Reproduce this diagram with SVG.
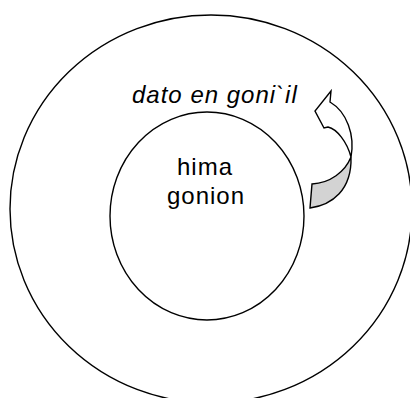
<svg xmlns="http://www.w3.org/2000/svg" width="410" height="398" viewBox="0 0 410 398">
<style>
.c{fill:none;stroke:#000;stroke-width:1.4}
.t{font-family:"Liberation Sans",Arial,sans-serif;font-size:24px;letter-spacing:1px;fill:#000}
.a{stroke:#000;stroke-width:1.4;stroke-linejoin:miter}
</style>
<rect width="410" height="398" fill="#fff"/>
<g id="outer"><ellipse class="c" cx="211" cy="209" rx="201" ry="194"/></g>
<g id="inner"><ellipse class="c" cx="207" cy="216" rx="97" ry="104"/>
<text class="t" x="205" y="175" text-anchor="middle">hima</text>
<text class="t" x="206" y="204" text-anchor="middle">gonion</text></g>
<g id="label"><text class="t" x="132" y="103" font-style="italic">dato en goni`il</text></g>
<g id="connectors">
<path class="a" fill="#d3d3d3" d="M351,157 C345,172 330,183 312,184 L310,208 C332,205 352,190 351,157 Z"/>
<path class="a" fill="#fff" d="M331,91 L315,111 L324,128 L328,127 C337,129 347,142 351,157 C355,135 347,112 330,102 Z"/>
</g>
</svg>
